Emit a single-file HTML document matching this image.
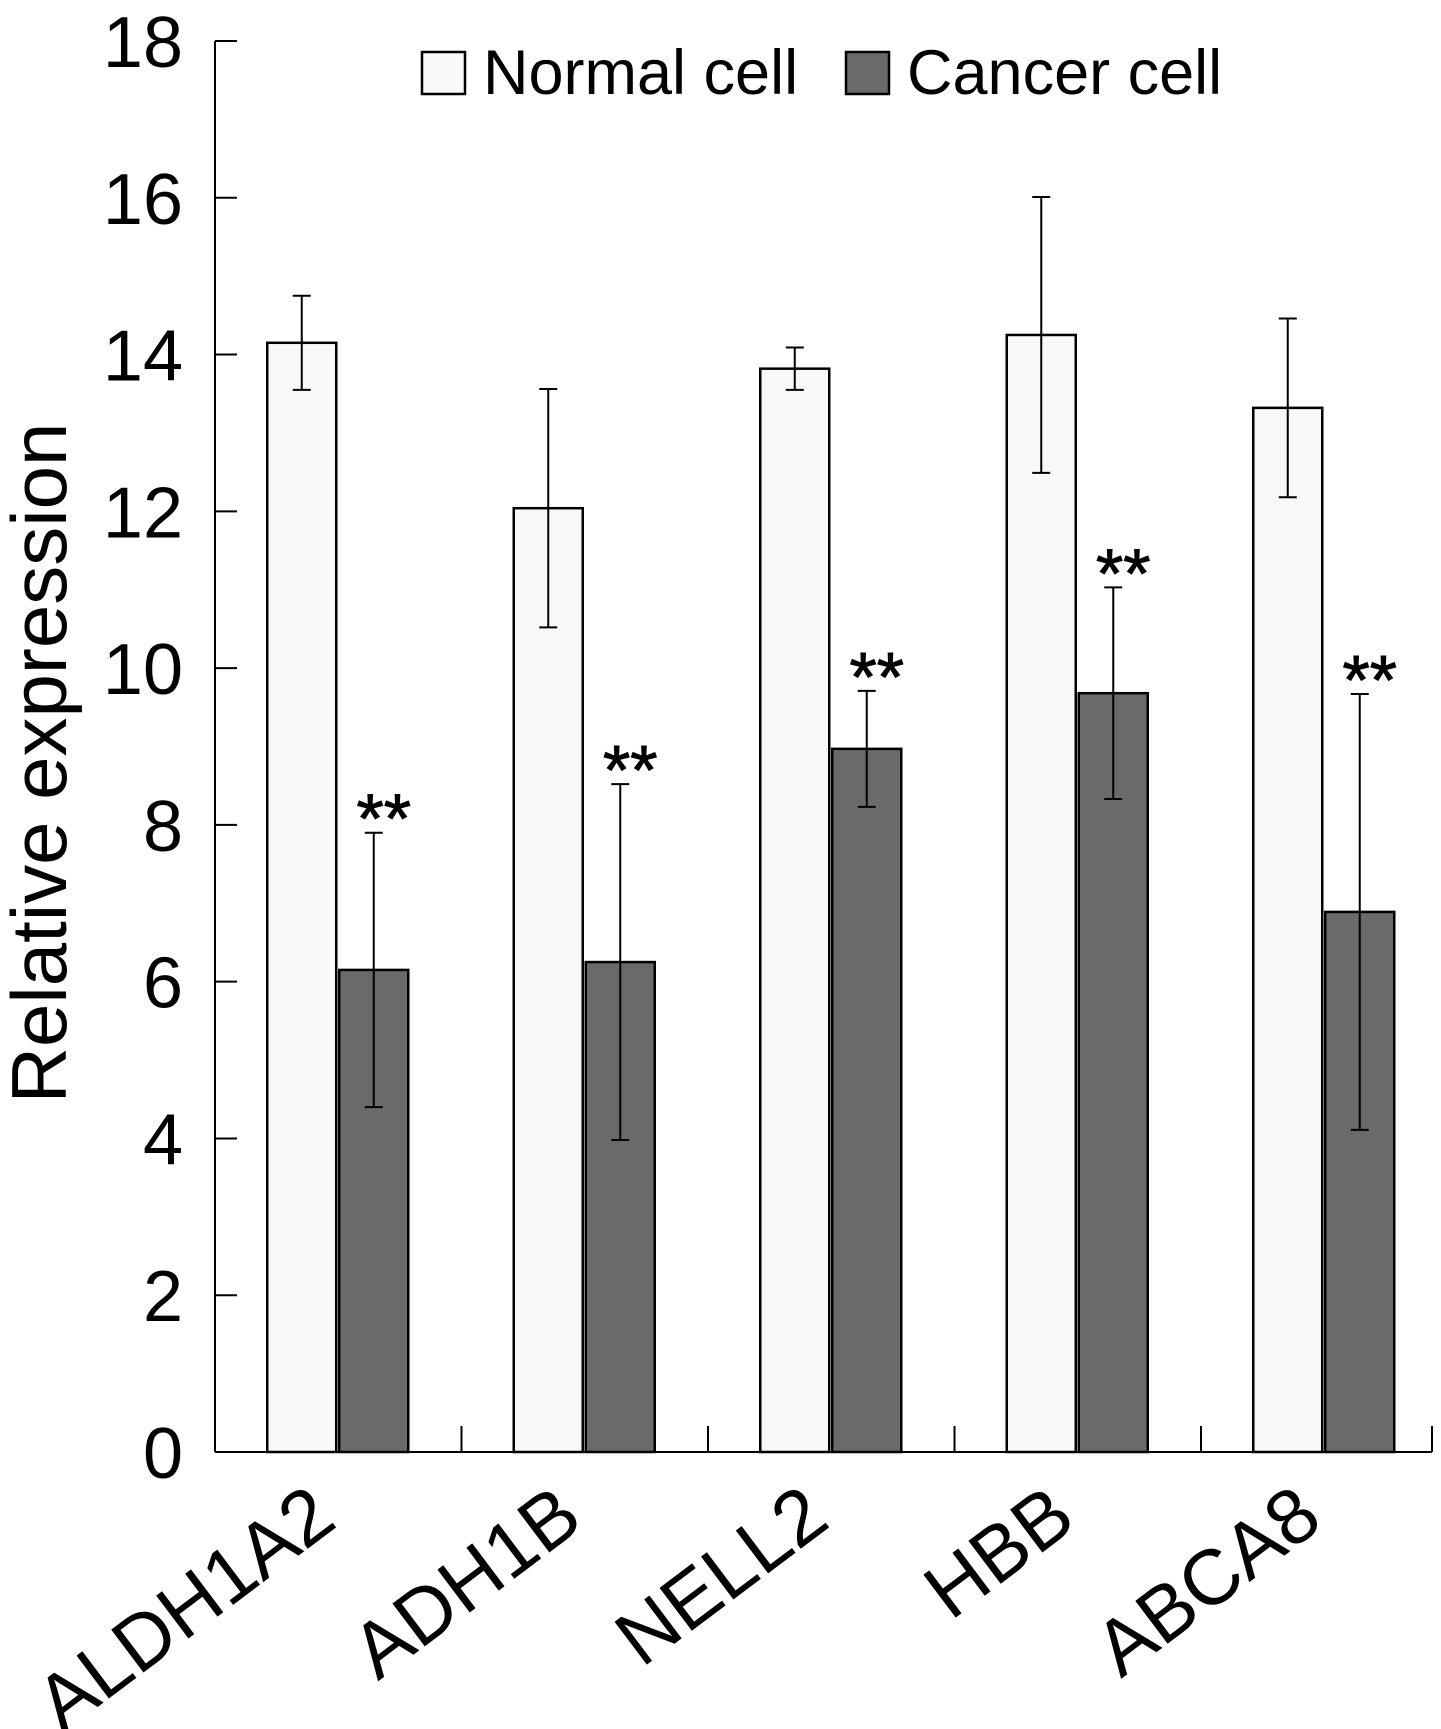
<!DOCTYPE html>
<html><head><meta charset="utf-8"><style>
html,body{margin:0;padding:0;background:#fff;}
svg{display:block;font-family:"Liberation Sans",Arial,sans-serif;}
</style></head><body>
<svg id="chart" width="1441" height="1729" viewBox="0 0 1441 1729" xmlns="http://www.w3.org/2000/svg">
<rect width="1441" height="1729" fill="#fff"/>
<g id="legend">
  <rect x="422" y="52" width="43" height="42" fill="#f8f8f8" stroke="#000" stroke-width="2.5"/>
  <text x="483" y="94" font-size="63">Normal cell</text>
  <rect x="846" y="52" width="43" height="42" fill="#6a6a6a" stroke="#000" stroke-width="2.5"/>
  <text x="907" y="94" font-size="63">Cancer cell</text>
</g>
<text transform="translate(66,763) rotate(-90)" text-anchor="middle" font-size="78">Relative expression</text>
<g id="axes"></g>
<g id="bars"></g>
</svg>
<script>
const categories = ["ALDH1A2","ADH1B","NELL2","HBB","ABCA8"];
const normalMeans = [14.15,12.04,13.82,14.25,13.32];
const normalErr = [0.6,1.52,0.27,1.76,1.14];
const cancerMeans = [6.15,6.25,8.97,9.68,6.89];
const cancerErr = [1.75,2.27,0.74,1.35,2.78];
const yTicks = [0,2,4,6,8,10,12,14,16,18];
const sigLabels = ["**","**","**","**","**"];

const NS = "http://www.w3.org/2000/svg";
const x0 = 215, y0 = 1452, yTop = 41, yMax = 18, xEnd = 1432, groupW = 246.5;
const yScale = v => y0 - (v / yMax) * (y0 - yTop);
const xCenter = i => x0 + groupW * (i + 0.5);
function mk(tag, attrs, parent){
  const e = document.createElementNS(NS, tag);
  for (const k in attrs) e.setAttribute(k, attrs[k]);
  parent.appendChild(e);
  return e;
}
const axes = document.getElementById('axes');
const bars = document.getElementById('bars');

let yl = mk('line', {x1:x0, y1:yTop, x2:x0, y2:y0, stroke:'#000', 'stroke-width':2}, axes);


yTicks.forEach(t => {
  const y = yScale(t);
  const tk = mk('line', {x1:x0, y1:y, x2:x0+22, y2:y, stroke:'#000', 'stroke-width':2}, axes);
  
  
  const lb = mk('text', {x:183, y:y+26, 'text-anchor':'end', 'font-size':72}, axes);
  lb.textContent = t;
  
  
});

categories.forEach((c, i) => {
  const cx = xCenter(i);
  const bw = 69;
  const series = [
    {m: normalMeans[i], e: normalErr[i], x: cx - bw - 2, fill: '#f8f8f8', name: 'bar-normal-'},
    {m: cancerMeans[i], e: cancerErr[i], x: cx + 1, fill: '#6a6a6a', name: 'bar-cancer-'}
  ];
  series.forEach(s => {
    const yt = yScale(s.m);
    const r = mk('rect', {x:s.x, y:yt, width:bw, height:y0-yt, fill:s.fill, stroke:'#000', 'stroke-width':2.5}, bars);
    
    
    const ex = s.x + bw/2;
    const yh = yScale(s.m + s.e), ylw = yScale(s.m - s.e);
    const g = mk('g', {stroke:'#000', 'stroke-width':2}, bars);
    
    
    mk('line', {x1:ex, y1:yh, x2:ex, y2:ylw}, g);
    mk('line', {x1:ex-9, y1:yh, x2:ex+9, y2:yh}, g);
    mk('line', {x1:ex-9, y1:ylw, x2:ex+9, y2:ylw}, g);
  });
  const capY = yScale(cancerMeans[i] + cancerErr[i]);
  const st = mk('text', {x:cx + 1 + 69/2 + 10, y:capY + 10, 'text-anchor':'middle', 'font-size':70, stroke:'#000', 'stroke-width':1}, bars);
  st.textContent = sigLabels[i];
  
  
  const cl = mk('text', {transform:`translate(${cx+1},1525) rotate(-37)`, 'text-anchor':'end', 'font-size':78}, axes);
  cl.textContent = c;
  
  
});

let xl = mk('line', {x1:x0, y1:y0, x2:xEnd, y2:y0, stroke:'#000', 'stroke-width':2}, axes);


for (let k = 1; k < categories.length; k++) {
  const x = x0 + groupW * k;
  const tk = mk('line', {x1:x, y1:y0, x2:x, y2:y0-26, stroke:'#000', 'stroke-width':2}, axes);
  
  
}
const te = mk('line', {x1:xEnd, y1:y0, x2:xEnd, y2:y0-26, stroke:'#000', 'stroke-width':2}, axes);


</script>
</body></html>
